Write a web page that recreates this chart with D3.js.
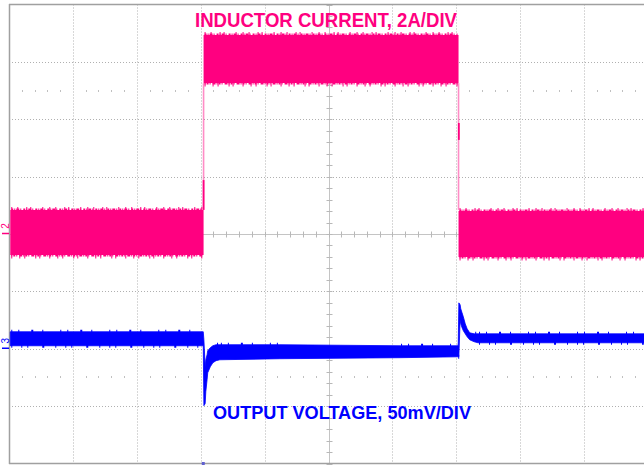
<!DOCTYPE html>
<html>
<head>
<meta charset="utf-8">
<script src="https://cdn.jsdelivr.net/npm/d3@7"></script>
<style>
  body { margin: 0; background: #fff; }
  svg { display: block; }
</style>
</head>
<body>
<svg width="644" height="465"></svg>
<script>
// time is in screen divisions from the centre line
// inductor current in A (2 A/div, 0 A at centre), output voltage in mV (50 mV/div, 0 at ch marker)

// inductor current envelope (step after each point)
const curT  = [-4.98, -1.955, 2.035, 4.95];
const curHi = [0.84, 6.94, 0.80, 0.80];
const curLo = [-0.73, 5.26, -0.80, -0.80];

// switching edges of the current trace
const edgeT      = [-1.955, 2.035];
const edgeFrom   = [0.84, 5.26];
const edgeTo     = [5.26, 0.84];
const edgeDenseT   = [-1.955, 2.04];
const edgeDenseTop = [1.88, 3.87];
const edgeDenseBot = [0.84, 3.28];

// output voltage envelope
const voltT  = [-4.98, -1.96, -1.95, -1.93, -1.92, -1.90, -1.89, -1.85, -1.81, -1.76, -1.70, -0.76, 1.12,
                2.03, 2.04, 2.06, 2.07, 2.09, 2.11, 2.14, 2.17, 2.21, 2.28, 2.34, 4.95];
const voltHi = [14.8, 14.8, 7.8, -15.7, -9.6, -5.2, -1.7, 0.9, 2.6, 3.5, 3.5, 3.5, 2.6,
                2.6, 40.0, 38.3, 34.8, 31.3, 27.8, 21.7, 17.4, 13.9, 13.0, 13.0, 13.0];
const voltLo = [2.6, 2.6, -49.6, -47.8, -37.4, -27.0, -20.9, -15.7, -12.2, -10.4, -9.6, -8.7, -7.8,
                -7.0, -7.0, 25.2, 21.7, 18.3, 15.7, 13.0, 10.4, 7.8, 6.1, 5.2, 5.2];

const labels = ["INDUCTOR CURRENT, 2A/DIV", "OUTPUT VOLTAGE, 50mV/DIV"];
const chNames = ["2", "3"];
const triggerT = -1.96;

const PINK = "#ff0080";
const BLUE = "#0000ff";

const svg = d3.select("svg");
svg.append("rect").attr("width", 644).attr("height", 465).attr("fill", "#fff");

const x = d3.scaleLinear().domain([-5, 5]).range([9, 648]);
const yDiv = d3.scaleLinear().domain([-4, 4]).range([463.5, 4.5]);
const yCur = d3.scaleLinear().domain([-8, 8]).range([463.5, 4.5]);
const yVolt = d3.scaleLinear().domain([-100, 300]).range([463.5, 4.5]);

// ---- graticule
const grid = svg.append("g");

grid.selectAll("line.v")
    .data(d3.range(-4, 5).filter(d => d !== 0))
    .enter().append("line")
    .attr("x1", d => Math.round(x(d)) + 0.5)
    .attr("x2", d => Math.round(x(d)) + 0.5)
    .attr("y1", yDiv(4))
    .attr("y2", yDiv(-4))
    .style("stroke", "#b0b0b0")
    .style("stroke-dasharray", "1,2");

grid.selectAll("line.h")
    .data(d3.range(-3, 4).filter(d => d !== 0))
    .enter().append("line")
    .attr("x1", x(-5))
    .attr("x2", 644)
    .attr("y1", d => Math.round(yDiv(d)) + 0.5)
    .attr("y2", d => Math.round(yDiv(d)) + 0.5)
    .style("stroke", "#b0b0b0")
    .style("stroke-dasharray", "1,2");

// centre cross with minor ticks
const cx = Math.round(x(0)) + 0.5;
const cy = Math.round(yDiv(0)) + 0.5;
grid.append("line")
    .attr("x1", x(-5)).attr("x2", 644).attr("y1", cy).attr("y2", cy)
    .style("stroke", "#c4c4c4");
grid.append("line")
    .attr("x1", cx).attr("x2", cx).attr("y1", yDiv(4)).attr("y2", yDiv(-4))
    .style("stroke", "#c4c4c4");

grid.selectAll("line.tx")
    .data(d3.range(-25, 26).map(d => d / 5))
    .enter().append("line")
    .attr("x1", d => Math.round(x(d)) + 0.5)
    .attr("x2", d => Math.round(x(d)) + 0.5)
    .attr("y1", cy - 3)
    .attr("y2", cy + 3)
    .style("stroke", "#b8b8b8");

grid.selectAll("line.ty")
    .data(d3.range(-20, 21).map(d => d / 5))
    .enter().append("line")
    .attr("x1", cx - 3)
    .attr("x2", cx + 3)
    .attr("y1", d => Math.round(yDiv(d)) + 0.5)
    .attr("y2", d => Math.round(yDiv(d)) + 0.5)
    .style("stroke", "#b8b8b8");

// dotted rows at +/-2.5 div
const dots = [];
[2.5, -2.5].forEach(r => {
    d3.range(-25, 26).forEach(i => {
        if (i % 5 !== 0) dots.push({t: i / 5, r});
    });
});
grid.selectAll("rect.dot")
    .data(dots)
    .enter().append("rect")
    .attr("x", d => Math.round(x(d.t)))
    .attr("y", d => Math.round(yDiv(d.r)) - 1)
    .attr("width", 1)
    .attr("height", 2)
    .style("fill", "#c0c0c0");

// frame
grid.append("line")
    .attr("x1", x(-5)).attr("x2", 644).attr("y1", 4.5).attr("y2", 4.5)
    .style("stroke", "#a0a0a0").style("stroke-width", 1.5);
grid.append("line")
    .attr("x1", x(-5)).attr("x2", 644).attr("y1", 463.5).attr("y2", 463.5)
    .style("stroke", "#a0a0a0").style("stroke-width", 1.5);
grid.append("line")
    .attr("x1", 9.5).attr("x2", 9.5).attr("y1", 4).attr("y2", 464)
    .style("stroke", "#a0a0a0").style("stroke-width", 1.5);

// ---- traces
function segments(ts, vs) {
    let out = [];
    for (let i = 0; i < ts.length - 1; i++) {
        if (vs[i] === vs[i + 1] || ts === curT) out.push({t0: ts[i], t1: ts[i + 1], v: vs[i]});
    }
    return out;
}

function fringe(g, segs, yScale, color, width, dash) {
    g.selectAll(null)
        .data(segs)
        .enter().append("line")
        .attr("x1", d => x(d.t0) + 1)
        .attr("x2", d => x(d.t1) - 1)
        .attr("y1", d => yScale(d.v))
        .attr("y2", d => yScale(d.v))
        .style("stroke", color)
        .style("stroke-width", width)
        .style("stroke-dasharray", dash);
}

// inductor current
const cur = curT.map((t, i) => ({t, hi: curHi[i], lo: curLo[i]}));
const gCur = svg.append("g");

gCur.selectAll("line.edge")
    .data(edgeT.map((t, i) => ({t, a: edgeFrom[i], b: edgeTo[i]})))
    .enter().append("line")
    .attr("x1", d => x(d.t)).attr("x2", d => x(d.t))
    .attr("y1", d => yCur(d.a)).attr("y2", d => yCur(d.b))
    .style("stroke", PINK)
    .style("stroke-opacity", 0.45)
    .style("stroke-width", 1.6);

gCur.selectAll("line.dense")
    .data(edgeDenseT.map((t, i) => ({t, a: edgeDenseTop[i], b: edgeDenseBot[i]})))
    .enter().append("line")
    .attr("x1", d => x(d.t)).attr("x2", d => x(d.t))
    .attr("y1", d => yCur(d.a)).attr("y2", d => yCur(d.b))
    .style("stroke", PINK)
    .style("stroke-width", 1.8);

gCur.append("path")
    .datum(cur)
    .attr("d", d3.area()
        .curve(d3.curveStepAfter)
        .x(d => x(d.t))
        .y0(d => yCur(d.lo))
        .y1(d => yCur(d.hi)))
    .style("fill", PINK);

const hiSegs = segments(curT, curHi);
const loSegs = segments(curT, curLo);
fringe(gCur, hiSegs, yCur, PINK, 3, "2,1,1,1,3,1,1,2");
fringe(gCur, loSegs, yCur, PINK, 3, "1,1,2,1,1,2,3,1");
fringe(gCur, hiSegs, yCur, PINK, 6, "1,5,1,8,1,3,1,11,1,6");
fringe(gCur, loSegs, yCur, PINK, 7, "1,7,1,4,1,10,1,3,1,9");

// output voltage
const volt = voltT.map((t, i) => ({t, hi: voltHi[i], lo: voltLo[i]}));
const gVolt = svg.append("g");

gVolt.append("path")
    .datum(volt)
    .attr("d", d3.area()
        .x(d => x(d.t))
        .y0(d => yVolt(d.lo))
        .y1(d => yVolt(d.hi)))
    .style("fill", BLUE)
    .style("stroke", BLUE)
    .style("stroke-width", 0.8);

const vHiSegs = segments(voltT, voltHi);
const vLoSegs = segments(voltT, voltLo);
fringe(gVolt, vHiSegs, yVolt, BLUE, 4, "1,6,1,12,2,9,1,17");
fringe(gVolt, vLoSegs, yVolt, BLUE, 4, "1,9,1,5,1,14,2,11");

// ---- channel markers
const markers = [{name: chNames[0], y: yCur(0), color: PINK}, {name: chNames[1], y: yVolt(0), color: BLUE}];
const gMark = svg.append("g");
gMark.selectAll("line")
    .data(markers)
    .enter().append("line")
    .attr("x1", 2).attr("x2", 9)
    .attr("y1", d => d.y - 0.5).attr("y2", d => d.y - 0.5)
    .style("stroke", d => d.color)
    .style("stroke-width", 1.5);
gMark.selectAll("text")
    .data(markers)
    .enter().append("text")
    .attr("transform", d => `translate(8.5,${d.y - 8}) rotate(-90)`)
    .attr("text-anchor", "middle")
    .style("font-family", "'Liberation Sans', Arial, sans-serif")
    .style("font-size", "10px")
    .style("fill", d => d.color)
    .text(d => d.name);

// trigger position marker
svg.append("rect")
    .attr("x", x(triggerT) - 1.5)
    .attr("y", 462)
    .attr("width", 3)
    .attr("height", 3)
    .style("fill", "#6060d0");

// ---- labels
svg.append("text")
    .attr("x", 195)
    .attr("y", 27)
    .attr("textLength", 262)
    .attr("lengthAdjust", "spacingAndGlyphs")
    .style("font-family", "'Liberation Sans', Arial, sans-serif")
    .style("font-weight", "bold")
    .style("font-size", "20px")
    .style("fill", PINK)
    .text(labels[0]);

svg.append("text")
    .attr("x", 213)
    .attr("y", 419)
    .attr("textLength", 258)
    .attr("lengthAdjust", "spacingAndGlyphs")
    .style("font-family", "'Liberation Sans', Arial, sans-serif")
    .style("font-weight", "bold")
    .style("font-size", "19px")
    .style("fill", BLUE)
    .text(labels[1]);
</script>
</body>
</html>
